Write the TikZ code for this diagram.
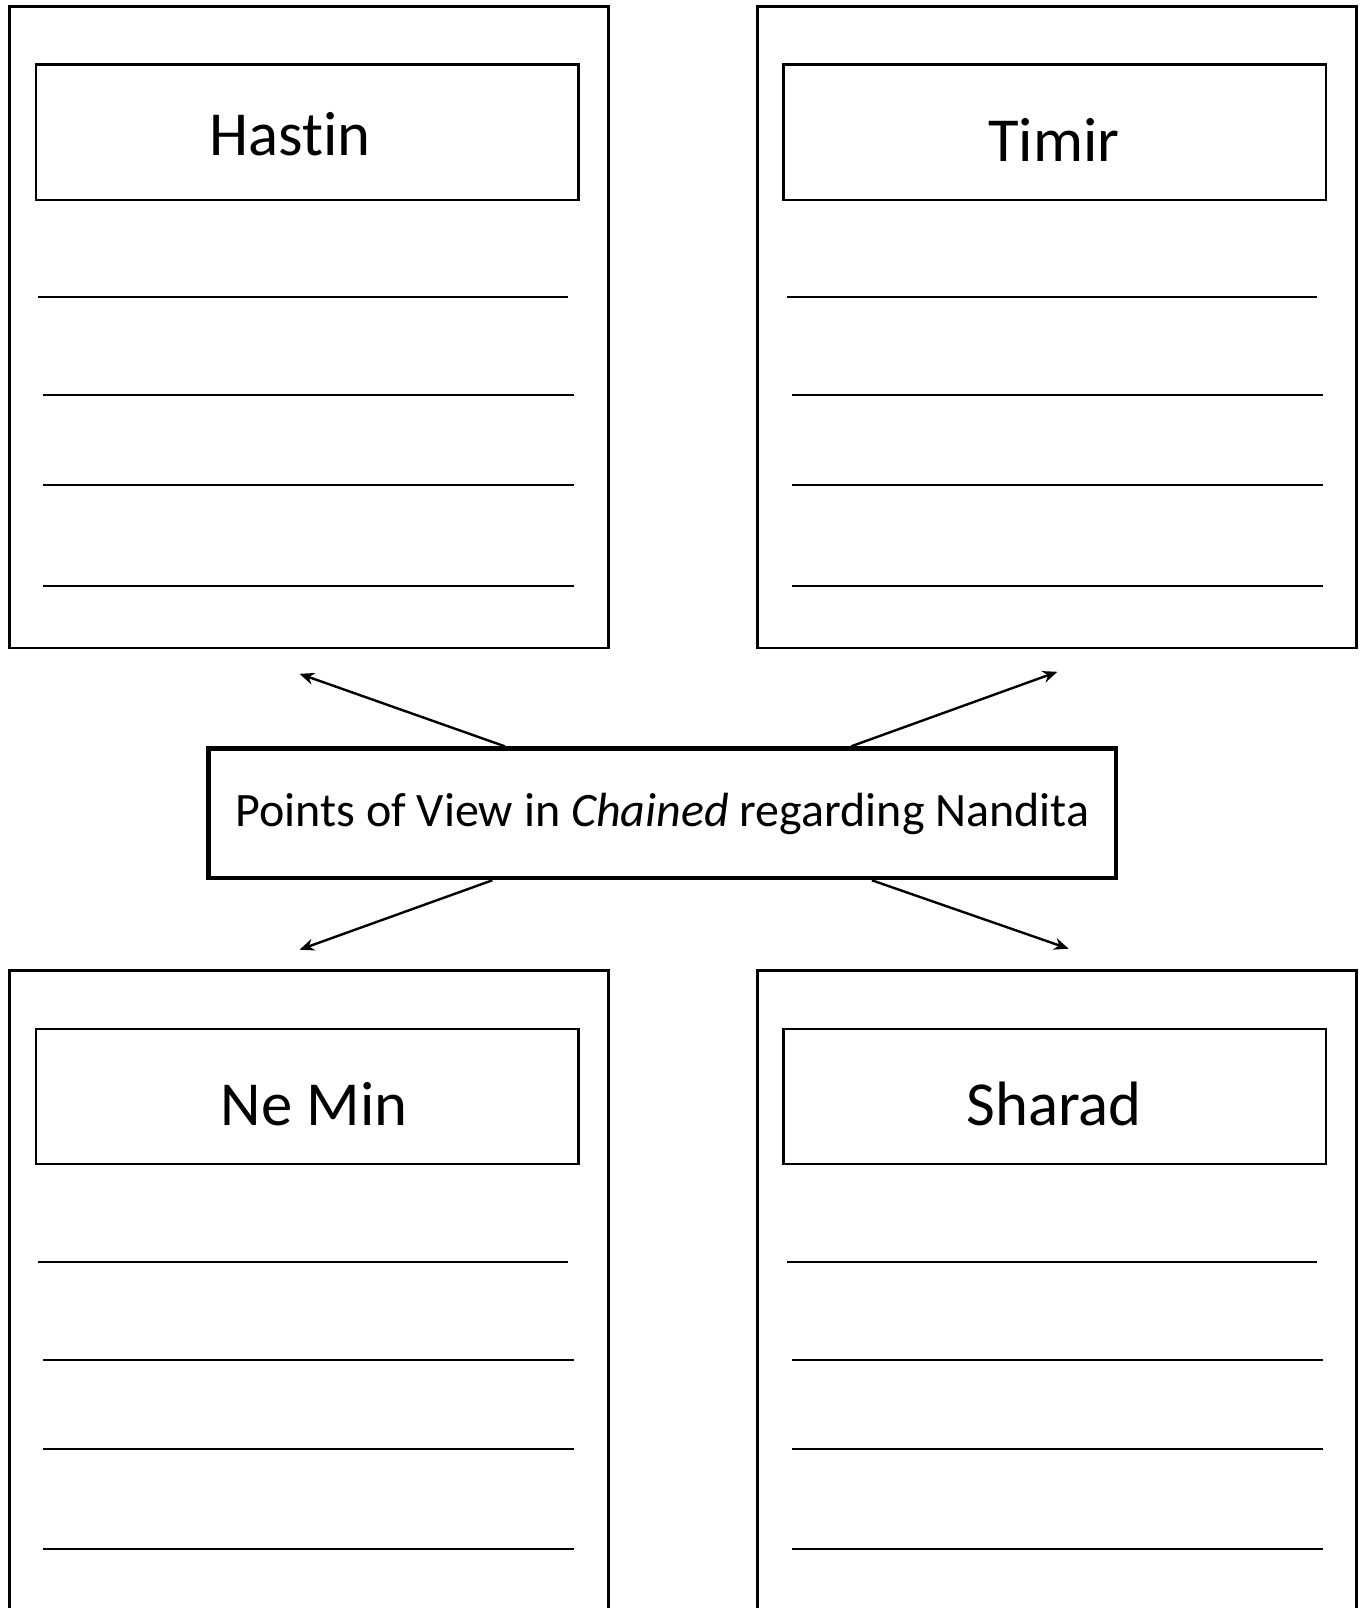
\documentclass[tikz,border=0pt]{standalone}
\usepackage{fontspec}
\setmainfont{Carlito}[Ligatures={NoCommon,NoRare,NoDiscretionary}]
\usetikzlibrary{arrows.meta,calc}
\tikzset{
  outerbox/.style={draw=black,line width=2.1pt,rectangle,inner sep=0pt,minimum width=449.25pt},
  titlebox/.style={draw=black,line width=1.7pt,rectangle,inner sep=0pt,minimum width=406.9pt,minimum height=101.6pt},
  nametext/.style={anchor=base,inner sep=0pt,font=\fontsize{47}{56}\selectfont},
  writeline/.style={draw=black,line width=1.5pt},
  centerbox/.style={draw=black,line width=3.6pt,rectangle,inner sep=0pt},
  centertext/.style={anchor=base,inner sep=0pt,font=\fontsize{36}{43}\selectfont},
  pointer/.style={draw=black,line width=1.8pt,-{Stealth[length=11pt,width=9pt]}}
}
\begin{document}
\begin{tikzpicture}[x=0.75pt,y=-0.75pt]
\useasboundingbox (0,0) rectangle (1361,1608);
\clip (0,0) rectangle (1361,1608);
% outer boxes
\node[outerbox,minimum height=481.35pt] (TL) at (308.7,327.1) {};
\node[outerbox,minimum height=481.35pt] (TR) at (1057,327.1) {};
\node[outerbox,minimum height=502.35pt] (BL) at (308.7,1305.1) {};
\node[outerbox,minimum height=502.35pt] (BR) at (1057,1305.1) {};
% title boxes
\node[titlebox] (tTL) at (307.15,132.3) {};
\node[titlebox] (tTR) at (1054.85,132.3) {};
\node[titlebox] (tBL) at (307.15,1096.4) {};
\node[titlebox] (tBR) at (1054.85,1096.4) {};
\node[nametext] (hastin) at (290,156) {Hastin};
\node[nametext] (timir) at (1054,162) {Timir};
\node[nametext] (nemin) at (314,1125) {Ne Min};
\node[nametext] (sharad) at (1054,1125) {Sharad};
% writing lines
\foreach \ox in {0,748.8}{
  \draw[writeline] (38+\ox,297.4) -- (568+\ox,297.4);
  \draw[writeline] (43+\ox,394.9) -- (574+\ox,394.9);
  \draw[writeline] (43+\ox,485) -- (574+\ox,485);
  \draw[writeline] (43+\ox,585.6) -- (574+\ox,585.6);
  \draw[writeline] (38+\ox,1261.5) -- (568+\ox,1261.5);
  \draw[writeline] (43+\ox,1360) -- (574+\ox,1360);
  \draw[writeline] (43+\ox,1449.2) -- (574+\ox,1449.2);
  \draw[writeline] (43+\ox,1548.7) -- (574+\ox,1548.7);
}
% center
\node[centerbox,minimum width=907.7*0.75pt,minimum height=129.2*0.75pt] (center) at (662.05,813.3) {};
\node[centertext] (ctext) at (662.5,826.6) {Points of View in \textit{Chained} regarding Nandita};
% arrow tips
\coordinate (tipTL) at (299.5,673.8);
\coordinate (tipTR) at (1057.4,671.8);
\coordinate (tipBL) at (299.5,949.7);
\coordinate (tipBR) at (1068.7,948.7);
\draw[pointer] ($(center.north west)!0.3277!(center.north east)$) -- (tipTL);
\draw[pointer] ($(center.north west)!0.7073!(center.north east)$) -- (tipTR);
\draw[pointer] ($(center.south west)!0.314!(center.south east)$) -- (tipBL);
\draw[pointer] ($(center.south west)!0.730!(center.south east)$) -- (tipBR);
\end{tikzpicture}
\end{document}
